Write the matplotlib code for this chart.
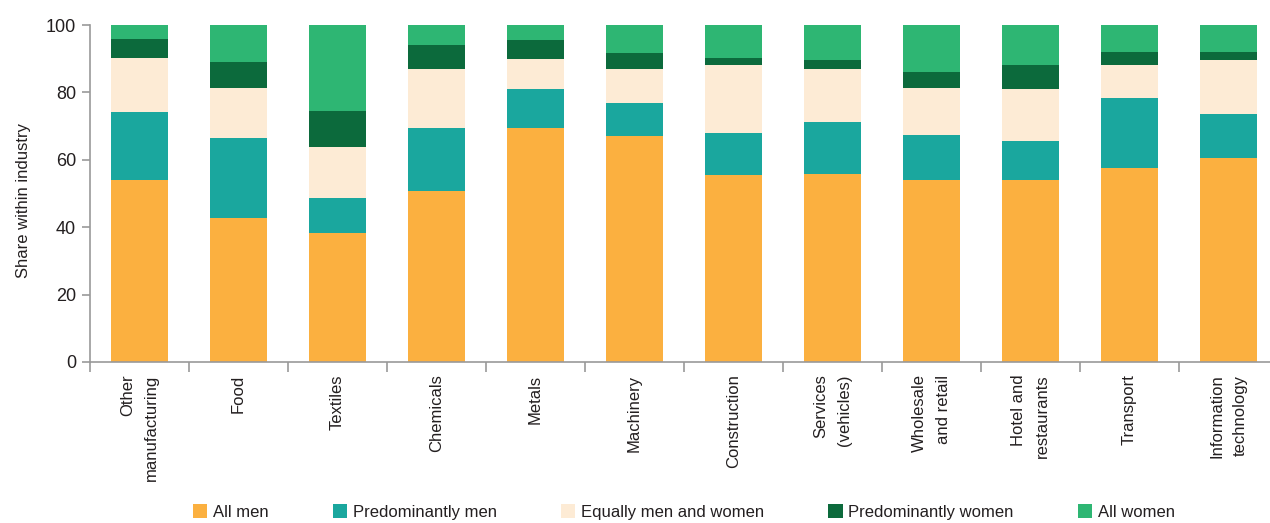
import numpy as np
import matplotlib
matplotlib.use('Agg')
import matplotlib.pyplot as plt

# Data
industries = ['Other\nmanufacturing', 'Food', 'Textiles', 'Chemicals', 'Metals',
              'Machinery', 'Construction', 'Services\n(vehicles)', 'Wholesale\nand retail',
              'Hotel and\nrestaurants', 'Transport', 'Information\ntechnology']
all_men = [54.0, 42.8, 38.3, 50.8, 69.4, 67.1, 55.5, 55.8, 54.0, 54.0, 57.6, 60.6]
pred_men = [20.2, 23.7, 10.4, 18.7, 11.6, 9.8, 12.5, 15.4, 13.4, 11.6, 20.8, 13.0]
equal = [16.0, 14.8, 15.1, 17.4, 8.9, 10.0, 20.1, 15.7, 13.9, 15.4, 9.7, 16.0]
pred_women = [5.7, 7.7, 10.7, 7.1, 5.7, 4.8, 2.1, 2.7, 4.8, 7.1, 3.9, 2.4]
all_women = [4.1, 11.0, 25.5, 6.0, 4.4, 8.3, 9.8, 10.4, 13.9, 11.9, 8.0, 8.0]

series = [('All men', all_men, '#FBB040'),
          ('Predominantly men', pred_men, '#1AA79E'),
          ('Equally men and women', equal, '#FDEBD5'),
          ('Predominantly women', pred_women, '#0C6A3C'),
          ('All women', all_women, '#2EB673')]

plt.rcParams['font.family'] = ['Liberation Sans', 'DejaVu Sans']
txt = '#231F20'

fig = plt.figure(figsize=(12.7, 5.23), dpi=100)
ax = fig.add_axes([90 / 1270, 161 / 523, 1180 / 1270, 337 / 523])

x = np.arange(len(industries))
bottom = np.zeros(len(industries))
for name, vals, col in series:
    ax.bar(x, vals, bottom=bottom, width=0.58, color=col, label=name, zorder=2)
    bottom += np.array(vals)

ax.set_xlim(-0.5, 11.42)
ax.set_ylim(0, 100)
ax.set_yticks([0, 20, 40, 60, 80, 100])
ax.set_xticks(x)
ax.set_xticklabels(industries, rotation=90, fontsize=12, linespacing=1.7, color=txt,
                   multialignment='right')
ax.set_xticks(np.arange(-0.5, 11.5, 1), minor=True)
ax.tick_params(axis='x', which='major', length=0, pad=9)
ax.tick_params(axis='x', which='minor', length=7, color='#999999', width=1.2)
ax.tick_params(axis='y', length=6, color='#999999', width=1.2, labelsize=13,
               labelcolor=txt, pad=4)

for s in ['top', 'right']:
    ax.spines[s].set_visible(False)
for s in ['left', 'bottom']:
    ax.spines[s].set_color('#999999')
    ax.spines[s].set_linewidth(1.2)

ax.set_ylabel('Share within industry', fontsize=12, color=txt)
ax.yaxis.set_label_coords(-0.05, 0.478)

handles, labels = ax.get_legend_handles_labels()
fig.legend(handles, labels, loc='center', bbox_to_anchor=(684 / 1270, 1 - 512 / 523),
           ncol=5, frameon=False, handlelength=0.85, handleheight=0.9, handletextpad=0.35,
           columnspacing=3.85, prop={'size': 12}, labelcolor=txt)

fig.savefig('out.png', dpi=100)
